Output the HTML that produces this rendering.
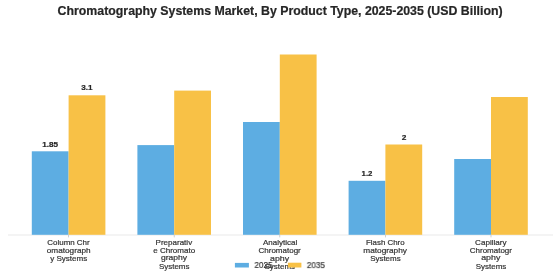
<!DOCTYPE html><html><head><meta charset="utf-8"><style>
html,body{margin:0;padding:0;width:560px;height:280px;overflow:hidden;background:#fff;}
body{position:relative;font-family:"Liberation Sans",sans-serif;}
#wrap{position:absolute;left:0;top:0;width:560px;height:280px;background:#fff;}
.a{position:absolute;}
.t{position:absolute;white-space:nowrap;line-height:1;transform-origin:0 0;left:0;top:0;-webkit-text-stroke:0.2px currentColor;will-change:transform;}
</style></head><body><div id="wrap">
<svg class="a" style="left:0;top:0" width="560" height="280" viewBox="0 0 560 280"><rect x="8" y="234.6" width="545" height="0.8" fill="#e4e4e4"/><rect x="31.80" y="151.3" width="36.8" height="83.50" fill="#5DADE2"/><rect x="68.60" y="95.3" width="36.8" height="139.50" fill="#F8C146"/><rect x="68.20" y="234.8" width="0.8" height="2.6" fill="#c4c4c4"/><rect x="137.40" y="145.1" width="36.8" height="89.70" fill="#5DADE2"/><rect x="174.20" y="90.6" width="36.8" height="144.20" fill="#F8C146"/><rect x="173.80" y="234.8" width="0.8" height="2.6" fill="#c4c4c4"/><rect x="243.00" y="122" width="36.8" height="112.80" fill="#5DADE2"/><rect x="279.80" y="54.5" width="36.8" height="180.30" fill="#F8C146"/><rect x="279.40" y="234.8" width="0.8" height="2.6" fill="#c4c4c4"/><rect x="348.60" y="180.8" width="36.8" height="54.00" fill="#5DADE2"/><rect x="385.40" y="144.5" width="36.8" height="90.30" fill="#F8C146"/><rect x="385.00" y="234.8" width="0.8" height="2.6" fill="#c4c4c4"/><rect x="454.20" y="159" width="36.8" height="75.80" fill="#5DADE2"/><rect x="491.00" y="97" width="36.8" height="137.80" fill="#F8C146"/><rect x="490.60" y="234.8" width="0.8" height="2.6" fill="#c4c4c4"/></svg>
<div class="t" id="title" style="transform:translate(57.611px,5.750px) scaleX(1.0365);font-weight:bold;font-size:11.9px;color:#262626;">Chromatography Systems Market, By Product Type, 2025-2035 (USD Billion)</div>
<div class="t" id="l0_0" style="transform:translate(47.289px,238.625px) scaleX(1.0460);font-weight:normal;font-size:7.6px;color:#333333;">Column Chr</div>
<div class="t" id="l0_1" style="transform:translate(46.780px,247.475px) scaleX(1.0809);font-weight:normal;font-size:7.6px;color:#333333;">omatograph</div>
<div class="t" id="l0_2" style="transform:translate(50.232px,255.075px) scaleX(1.0571);font-weight:normal;font-size:7.6px;color:#333333;">y Systems</div>
<div class="t" id="l1_0" style="transform:translate(155.572px,238.625px) scaleX(1.0569);font-weight:normal;font-size:7.6px;color:#333333;">Preparativ</div>
<div class="t" id="l1_1" style="transform:translate(153.186px,247.475px) scaleX(1.0573);font-weight:normal;font-size:7.6px;color:#333333;">e Chromato</div>
<div class="t" id="l1_2" style="transform:translate(160.919px,254.325px) scaleX(1.1243);font-weight:normal;font-size:7.6px;color:#333333;">graphy</div>
<div class="t" id="l1_3" style="transform:translate(158.938px,262.925px) scaleX(1.0480);font-weight:normal;font-size:7.6px;color:#333333;">Systems</div>
<div class="t" id="l2_0" style="transform:translate(262.932px,238.625px) scaleX(1.0543);font-weight:normal;font-size:7.6px;color:#333333;">Analytical</div>
<div class="t" id="l2_1" style="transform:translate(258.537px,247.475px) scaleX(1.0533);font-weight:normal;font-size:7.6px;color:#333333;">Chromatogr</div>
<div class="t" id="l2_2" style="transform:translate(270.010px,255.325px) scaleX(1.1603);font-weight:normal;font-size:7.6px;color:#333333;">aphy</div>
<div class="t" id="l2_3" style="transform:translate(264.538px,262.925px) scaleX(1.0480);font-weight:normal;font-size:7.6px;color:#333333;">Systems</div>
<div class="t" id="l3_0" style="transform:translate(366.032px,238.625px) scaleX(1.0364);font-weight:normal;font-size:7.6px;color:#333333;">Flash Chro</div>
<div class="t" id="l3_1" style="transform:translate(363.292px,247.475px) scaleX(1.0884);font-weight:normal;font-size:7.6px;color:#333333;">matography</div>
<div class="t" id="l3_2" style="transform:translate(370.138px,255.075px) scaleX(1.0480);font-weight:normal;font-size:7.6px;color:#333333;">Systems</div>
<div class="t" id="l4_0" style="transform:translate(475.033px,238.625px) scaleX(1.0689);font-weight:normal;font-size:7.6px;color:#333333;">Capillary</div>
<div class="t" id="l4_1" style="transform:translate(469.737px,247.475px) scaleX(1.0533);font-weight:normal;font-size:7.6px;color:#333333;">Chromatogr</div>
<div class="t" id="l4_2" style="transform:translate(481.210px,254.325px) scaleX(1.1603);font-weight:normal;font-size:7.6px;color:#333333;">aphy</div>
<div class="t" id="l4_3" style="transform:translate(475.738px,262.925px) scaleX(1.0480);font-weight:normal;font-size:7.6px;color:#333333;">Systems</div>
<div class="t" id="v0" style="transform:translate(42.263px,140.900px) scaleX(1.1657);font-weight:bold;font-size:7.0px;color:#262626;">1.85</div>
<div class="t" id="v1" style="transform:translate(81.200px,83.700px) scaleX(1.1636);font-weight:bold;font-size:7.0px;color:#262626;">3.1</div>
<div class="t" id="v2" style="transform:translate(361.582px,169.900px) scaleX(1.1135);font-weight:bold;font-size:7.0px;color:#262626;">1.2</div>
<div class="t" id="v3" style="transform:translate(401.752px,133.700px) scaleX(1.1862);font-weight:bold;font-size:7.0px;color:#262626;">2</div>
<svg class="a" style="left:0;top:0" width="560" height="280" viewBox="0 0 560 280"><rect x="234.9" y="262.9" width="14" height="4.6" fill="#5DADE2"/><rect x="287.9" y="262.7" width="13.5" height="4.8" fill="#F8C146"/></svg>
<div class="t" id="g0" style="transform:translate(254.442px,261.000px) scaleX(0.9534);font-weight:normal;font-size:8.5px;color:#333333;">2025</div>
<div class="t" id="g1" style="transform:translate(306.842px,261.100px) scaleX(0.9534);font-weight:normal;font-size:8.5px;color:#333333;">2035</div>
</div></body></html>
